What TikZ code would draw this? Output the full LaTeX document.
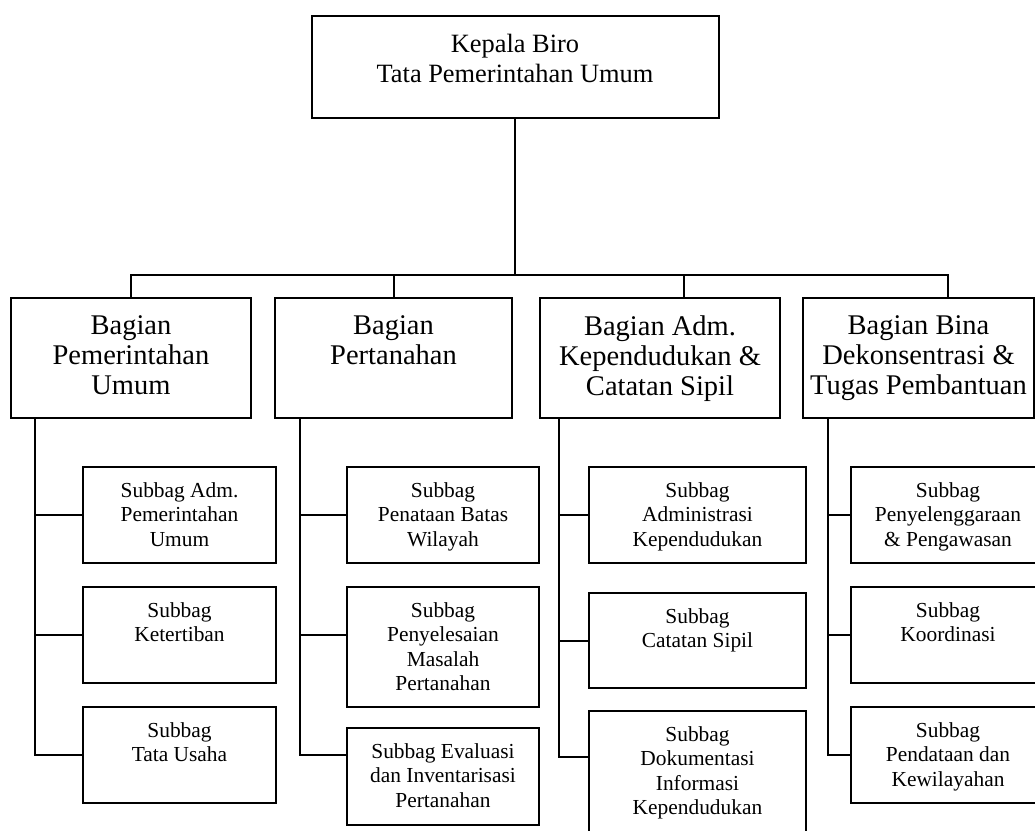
\documentclass[tikz,border=0pt]{standalone}
\usepackage{fontspec}
\setmainfont{Liberation Serif}
\usetikzlibrary{positioning}
\newcommand\kepfont{\fontsize{26.4}{30}\selectfont}
\newcommand\bagfont{\fontsize{28.5}{30}\selectfont}
\newcommand\subfont{\fontsize{21.4}{24.4}\selectfont}
\tikzset{
  unit/.style={draw, line width=2pt, inner sep=0pt},
  txt/.style={align=center, inner sep=0pt, anchor=north},
  kep/.style={unit, minimum width=407pt, minimum height=102pt},
  bag/.style={unit, minimum width=#1, minimum height=120pt},
  sub/.style={unit, minimum width=#1},
}

\begin{document}
\begin{tikzpicture}[x=1pt, y=-1pt, line width=2pt]
  % Page
  \clip (0,0) rectangle (1035,830);

  % Kepala
  \node[kep, label={[txt, yshift=-18pt, font=\kepfont]north:{Kepala Biro\\Tata Pemerintahan Umum}}] (kepala) at (515,67) {};

  % Bagian
  \node[bag=240pt, label={[txt, yshift=-17.6pt, font=\bagfont]north:{Bagian\\Pemerintahan\\Umum}}] (b1) at (131,358) {};
  \node[bag=237pt, label={[txt, yshift=-17.6pt, font=\bagfont]north:{Bagian\\Pertanahan}}] (b2) at (393.5,358) {};
  \node[bag=240pt, label={[txt, yshift=-17.6pt, font=\bagfont]north:{Bagian Adm.\\Kependudukan \&\\Catatan Sipil}}] (b3) at (660,358) {};
  \node[bag=231pt, label={[txt, yshift=-17.6pt, font=\bagfont]north:{Bagian Bina\\Dekonsentrasi \&\\Tugas Pembantuan}}] (b4) at (918.5,358) {};

  % Subbag
  \tikzset{every label/.style={txt, yshift=-15.4pt, font=\subfont}}
  \node[sub=193pt, minimum height=96pt, label=north:{Subbag Adm.\\Pemerintahan\\Umum}] (s11) at (179.5,515) {};
  \node[sub=193pt, minimum height=96pt, label=north:{Subbag\\Ketertiban}] (s12) at (179.5,635) {};
  \node[sub=193pt, minimum height=96pt, label=north:{Subbag\\Tata Usaha}] (s13) at (179.5,755) {};

  \node[sub=192pt, minimum height=96pt, label=north:{Subbag\\Penataan Batas\\Wilayah}] (s21) at (443,515) {};
  \node[sub=192pt, minimum height=120pt, label=north:{Subbag\\Penyelesaian\\Masalah\\Pertanahan}] (s22) at (443,647) {};
  \node[sub=192pt, minimum height=97pt, label=north:{Subbag Evaluasi\\dan Inventarisasi\\Pertanahan}] (s23) at (443,776.5) {};

  \node[sub=217pt, minimum height=96pt, label=north:{Subbag\\Administrasi\\Kependudukan}] (s31) at (697.5,515) {};
  \node[sub=217pt, minimum height=95pt, label=north:{Subbag\\Catatan Sipil}] (s32) at (697.5,640.5) {};
  \node[sub=217pt, minimum height=129pt, label=north:{Subbag\\Dokumentasi\\Informasi\\Kependudukan}] (s33) at (697.5,775.5) {};

  \node[sub=194pt, minimum height=96pt, label=north:{Subbag\\Penyelenggaraan\\\& Pengawasan}] (s41) at (948,515) {};
  \node[sub=194pt, minimum height=96pt, label=north:{Subbag\\Koordinasi}] (s42) at (948,635) {};
  \node[sub=194pt, minimum height=96pt, label=north:{Subbag\\Pendataan dan\\Kewilayahan}] (s43) at (948,755) {};

  % Garis bagian
  \coordinate (bus) at (515,275);
  \draw (kepala.south) -- (bus);
  \draw (b1.north) |- (bus) -| ([xshift=29.5pt]b4.north);
  \draw (b2.north) -- (b2.north |- bus);
  \draw ([xshift=24pt]b3.north) -- ([xshift=24pt]b3.north |- bus);

  % Garis subbag
  \coordinate (t1) at (35,418);
  \coordinate (t2) at (300,418);
  \coordinate (t3) at (559,418);
  \coordinate (t4) at (828,418);
  \draw (t1) |- (s13.west);
  \draw (t1 |- s11.west) -- (s11.west);
  \draw (t1 |- s12.west) -- (s12.west);
  \draw (t2) |- ([yshift=21.5pt]s23.west);
  \draw (t2 |- s21.west) -- (s21.west);
  \draw ([yshift=12pt]s22.west -| t2) -- ([yshift=12pt]s22.west);
  \draw (t3) |- ([yshift=18.5pt]s33.west);
  \draw (t3 |- s31.west) -- (s31.west);
  \draw (t3 |- s32.west) -- (s32.west);
  \draw (t4) |- (s43.west);
  \draw (t4 |- s41.west) -- (s41.west);
  \draw (t4 |- s42.west) -- (s42.west);
\end{tikzpicture}
\end{document}
